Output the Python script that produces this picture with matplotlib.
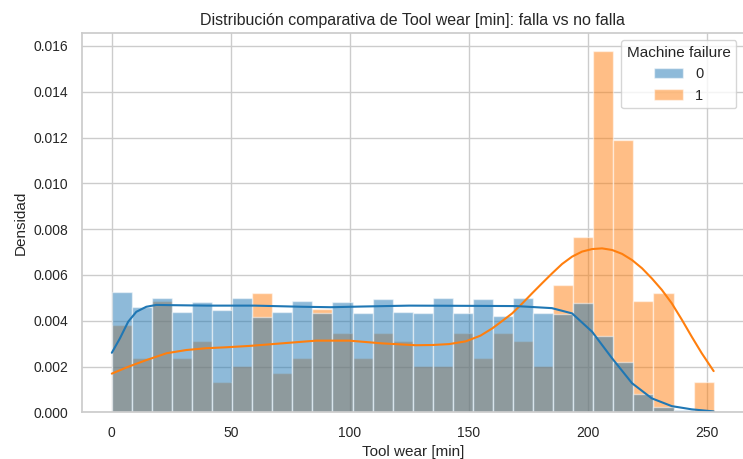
"""
Histograma comparativo de Tool wear (densidad) por Machine failure, con curvas KDE.
"""

import numpy as np
import matplotlib.pyplot as plt
import seaborn as sns

sns.set_theme(style='whitegrid')
plt.rcParams['font.family'] = ['Liberation Sans', 'DejaVu Sans']

# bordes de los bins (30 bins entre 0 y 253)
bin_edges = np.linspace(0, 253, 31)

# densidades, Machine failure = 0
dens_0 = [0.00527, 0.00460, 0.00498, 0.00439, 0.00482, 0.00445, 0.00498, 0.00418,
          0.00439, 0.00486, 0.00432, 0.00482, 0.00432, 0.00495, 0.00440, 0.00432,
          0.00498, 0.00432, 0.00493, 0.00422, 0.00500, 0.00432, 0.00428, 0.00476,
          0.00334, 0.00221, 0.00080, 0.00025, 0.00010, 0.00002]
# Machine failure = 1
dens_1 = [0.00380, 0.00238, 0.00487, 0.00238, 0.00311, 0.00134, 0.00204, 0.00520,
          0.00170, 0.00238, 0.00452, 0.00346, 0.00238, 0.00346, 0.00311, 0.00204,
          0.00204, 0.00346, 0.00238, 0.00346, 0.00311, 0.00204, 0.00556, 0.00767,
          0.01578, 0.01189, 0.00486, 0.00520, 0.00000, 0.00134]

# curvas KDE
kde0_x = [0, 3.4, 6.9, 10.3, 14.5, 18.7, 25, 40, 60, 80, 92, 105, 125, 150, 170,
          185, 193.5, 201.9, 210.3, 218.7, 227, 235.4, 243.8, 253]
kde0_y = [0.00260, 0.00323, 0.00396, 0.00439, 0.00461, 0.00469, 0.00468, 0.00466,
          0.00466, 0.00461, 0.00459, 0.00462, 0.00466, 0.00465, 0.00464,
          0.00455, 0.00432, 0.00352, 0.00236, 0.00127, 0.00061, 0.00027, 0.00013, 0.00004]
kde1_x = [0, 6.9, 14.5, 23, 31.3, 39.7, 48, 57.9, 70, 85.9, 99.8, 113.8, 127.8,
          134.8, 141.8, 148.8, 155, 160, 164, 168.3, 172.5, 176.7, 181, 185.1, 189.3,
          193.5, 197.7, 201.9, 206.1, 210.3, 214.5, 218.7, 222.9, 227, 231.2, 235.4,
          239.6, 243.8, 248, 253]
kde1_y = [0.00169, 0.00199, 0.00228, 0.00258, 0.00272, 0.00280, 0.00284, 0.00290,
          0.00300, 0.00313, 0.00313, 0.00301, 0.00293, 0.00294, 0.00298, 0.00310,
          0.00335, 0.00367, 0.00398, 0.00432, 0.00475, 0.00520, 0.00565, 0.00607,
          0.00648, 0.00680, 0.00702, 0.00713, 0.00716, 0.00709, 0.00692, 0.00665,
          0.00629, 0.00585, 0.00535, 0.00476, 0.00405, 0.00330, 0.00258, 0.00180]

blue = '#1f77b4'
orange = '#ff7f0e'

fig = plt.figure(figsize=(7.43, 4.59), dpi=100)
ax = fig.add_axes([0.110, 0.1017, 0.891, 0.8266])

widths = np.diff(bin_edges)
# seaborn dibuja primero el nivel 1 y encima el 0
ax.bar(bin_edges[:-1], dens_1, width=widths, align='edge', color=orange, alpha=0.5,
       edgecolor='white', linewidth=1, label='1')
ax.bar(bin_edges[:-1], dens_0, width=widths, align='edge', color=blue, alpha=0.5,
       edgecolor='white', linewidth=1, label='0')
ax.plot(kde1_x, kde1_y, color=orange, linewidth=1.5)
ax.plot(kde0_x, kde0_y, color=blue, linewidth=1.5)

ax.set_xlim(-12.65, 265.65)
ax.set_ylim(0, 0.01657)
ax.set_xticks([0, 50, 100, 150, 200, 250])
ax.set_yticks(np.arange(0, 0.0161, 0.002))
ax.yaxis.set_major_formatter(plt.FormatStrFormatter('%.3f'))
ax.tick_params(labelsize=10)

ax.set_title('Distribución comparativa de Tool wear [min]: falla vs no falla', fontsize=11.5)
ax.set_xlabel('Tool wear [min]', fontsize=11)
ax.set_ylabel('Densidad', fontsize=11)

handles, labels = ax.get_legend_handles_labels()
ax.legend(handles[::-1], labels[::-1], title='Machine failure', loc='upper right',
          fontsize=10.5, title_fontsize=11)

fig.savefig('out.png', dpi=100)
